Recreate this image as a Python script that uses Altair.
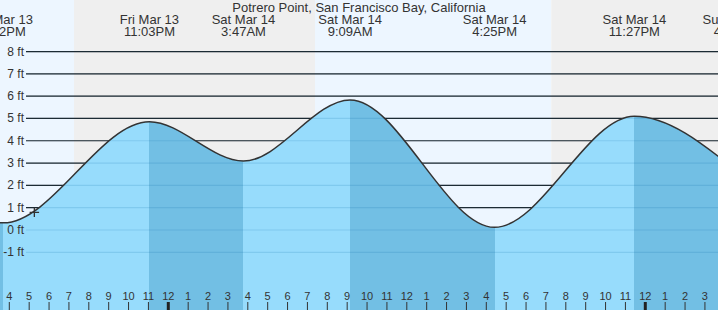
import altair as alt
import pandas as pd

TITLE = ["Potrero Point, San Francisco Bay, California"]

# Tide extremes; hours measured from midnight at the start of Sat Mar 14
tide_hours = [-14.40, -8.30, -0.95, 3.783, 9.15, 16.417, 23.45, 28.567]
tide_feet = [5.30, 0.32, 4.85, 3.09, 5.83, 0.12, 5.10, 2.68]
label_day = ["Fri Mar 13", "Fri Mar 13", "Fri Mar 13", "Sat Mar 14",
             "Sat Mar 14", "Sat Mar 14", "Sat Mar 14", "Sun Mar 15"]
label_time = ["9:36AM", "3:42PM", "11:03PM", "3:47AM",
              "9:09AM", "4:25PM", "11:27PM", "4:34AM"]

# daylight / night background bands (hours)
band_start = [-9.0, -4.745, 7.381, 19.27]
band_end = [-4.745, 7.381, 19.27, 28.0]
band_kind = ["day", "night", "day", "night"]

# current-time marker
now_hour = [-6.74]
now_feet = [0.79]

ft_levels = [8, 7, 6, 5, 4, 3, 2, 1, 0, -1]
hour_ticks = list(range(-8, 28))
midnights = [0, 24]

x_domain = [-8.468, 27.658]
y_domain = [-3.586, 10.31]

W, H = 718, 310
DAY_BG = "#edf6ff"
NIGHT_BG = "#efefef"
RISE = "#97dcfc"
FALL = "#72bfe4"
FONT = "Liberation Sans"
TXT = "#333333"

xs = alt.Scale(domain=x_domain, nice=False, zero=False)
ys = alt.Scale(domain=y_domain, nice=False, zero=False)

tide_df = pd.DataFrame({"h": tide_hours, "ft": tide_feet,
                        "day": label_day, "time": label_time})
tide_df["base"] = y_domain[0]
bands_df = pd.DataFrame({"start": band_start, "end": band_end, "kind": band_kind})
grid_df = pd.DataFrame({"ft": ft_levels, "lbl": [f"{v} ft" for v in ft_levels]})
now_df = pd.DataFrame({"h": now_hour, "ft": now_feet})
title_df = pd.DataFrame({"t": TITLE})
hours_df = pd.DataFrame({"h": hour_ticks,
                         "lbl": [str((h % 24) % 12 or 12) for h in hour_ticks]})
tick_df = pd.DataFrame({"h": [h for h in hour_ticks if h not in midnights]})
mid_df = pd.DataFrame({"h": midnights})

# gradient stops: water darker while falling (high -> low), lighter while rising
span = tide_hours[-1] - tide_hours[0]
stops = []
for i in range(len(tide_hours) - 1):
    col = FALL if tide_feet[i] > tide_feet[i + 1] else RISE
    o0 = (tide_hours[i] - tide_hours[0]) / span
    o1 = (tide_hours[i + 1] - tide_hours[0]) / span
    stops.append(alt.GradientStop(offset=o0, color=col))
    stops.append(alt.GradientStop(offset=o1, color=col))
water_fill = alt.LinearGradient(gradient="linear", x1=0, y1=0, x2=1, y2=0, stops=stops)

X = lambda f: alt.X(f, scale=xs, axis=None)
Y = lambda f: alt.Y(f, scale=ys, axis=None)

bands = alt.Chart(bands_df).mark_rect(clip=True).encode(
    x=X("start:Q"),
    x2="end:Q",
    y=alt.value(0),
    y2=alt.value(H),
    color=alt.Color("kind:N", scale=alt.Scale(domain=["day", "night"], range=[DAY_BG, NIGHT_BG]), legend=None),
)

grid_dark = alt.Chart(grid_df).mark_rule(color="#222222", strokeWidth=1.2).encode(
    y=Y("ft:Q"), x=alt.value(26), x2=alt.value(W),
)

water = alt.Chart(tide_df).mark_area(interpolate="monotone", clip=True, color=water_fill).encode(
    x=X("h:Q"), y=Y("ft:Q"), y2="base:Q",
)

grid_light = alt.Chart(grid_df).mark_rule(color="rgb(0,100,160)", opacity=0.15, strokeWidth=1.2).encode(
    y=Y("ft:Q"), x=alt.value(26), x2=alt.value(W),
)

curve = alt.Chart(tide_df).mark_line(interpolate="monotone", clip=True, color="#333333", strokeWidth=1.5).encode(
    x=X("h:Q"), y=Y("ft:Q"),
)

plus = alt.Chart(now_df).mark_point(
    shape="M-1,0L1,0M0,-1L0,1", size=90, filled=False, stroke="#333333", strokeWidth=1.3, opacity=1
).encode(x=X("h:Q"), y=Y("ft:Q"))

hour_ticks_layer = alt.Chart(tick_df).mark_rule(color=TXT, strokeWidth=1).encode(
    x=X("h:Q"), y=alt.value(302), y2=alt.value(H),
)
mid_ticks_layer = alt.Chart(mid_df).mark_rule(color="#222222", strokeWidth=3).encode(
    x=X("h:Q"), y=alt.value(302), y2=alt.value(H),
)

hour_labels = alt.Chart(hours_df).mark_text(
    font=FONT, fontSize=11, color=TXT, align="center", baseline="alphabetic"
).encode(x=X("h:Q"), y=alt.value(299.5), text="lbl:N")

ft_labels = alt.Chart(grid_df).mark_text(
    font=FONT, fontSize=12, color=TXT, align="right", baseline="middle"
).encode(y=Y("ft:Q"), x=alt.value(24), text="lbl:N")

ev_day = alt.Chart(tide_df).mark_text(
    font=FONT, fontSize=13, color=TXT, align="center", baseline="alphabetic"
).encode(x=X("h:Q"), y=alt.value(23.5), text="day:N")
ev_time = alt.Chart(tide_df).mark_text(
    font=FONT, fontSize=13, color=TXT, align="center", baseline="alphabetic"
).encode(x=X("h:Q"), y=alt.value(36), text="time:N")

title = alt.Chart(title_df).mark_text(
    font=FONT, fontSize=13, color=TXT, align="center", baseline="alphabetic"
).encode(x=alt.value(W / 2), y=alt.value(12), text="t:N")

chart = alt.layer(
    bands, grid_dark, water, grid_light, curve, plus,
    hour_ticks_layer, mid_ticks_layer, hour_labels, ft_labels, ev_day, ev_time, title
).properties(
    width=W, height=H, padding=0, autosize=alt.AutoSizeParams(type="none"),
    background="white",
).configure_view(stroke=None)

chart.save("out.html", embed_options={"renderer": "svg", "actions": False})
